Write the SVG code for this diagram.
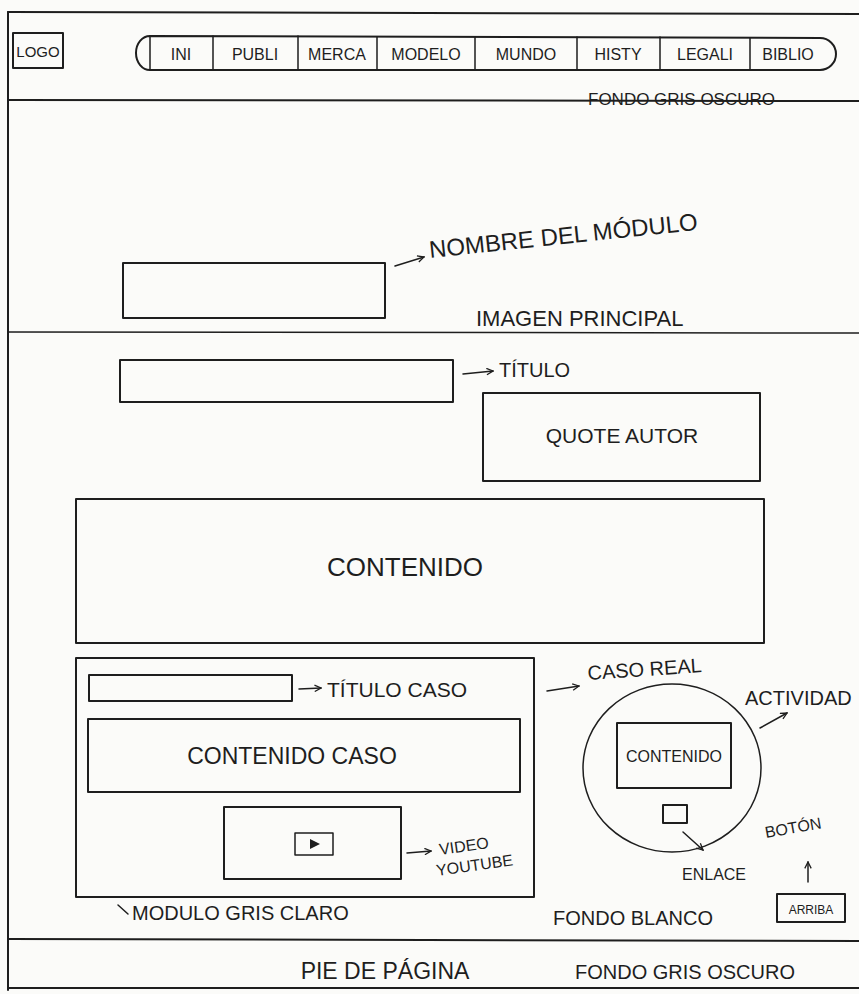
<svg xmlns="http://www.w3.org/2000/svg" width="859" height="994" viewBox="0 0 859 994">
<style>
.ln{fill:none;stroke:#1e1e1e;stroke-width:2;stroke-linecap:round;stroke-linejoin:round}
.th{fill:none;stroke:#1e1e1e;stroke-width:1.5;stroke-linecap:round;stroke-linejoin:round}
.t{font-family:"Liberation Sans",Arial,sans-serif;fill:#1e1e1e;font-size:20px}
.s{font-size:16px}
.m{text-anchor:middle}
</style>
<defs>
<marker id="ah" viewBox="0 0 10 10" refX="9" refY="5" markerWidth="8" markerHeight="8" orient="auto" markerUnits="userSpaceOnUse">
<path d="M1,1 L9,5 L1,9" fill="none" stroke="#1e1e1e" stroke-width="1.6"/>
</marker>
</defs>
<rect width="859" height="994" fill="#fbfbf9"/>
<g id="page-frame">
<path class="ln" d="M8,12 L859,14"/>
<path class="ln" d="M8,12 L8,990"/>
<path class="ln" d="M8,100 L859,101"/>
<path class="th" d="M8,332 L859,333"/>
<path class="ln" d="M8,939 L859,941"/>
<path class="ln" d="M8,988 L859,988"/>
</g>
<g id="logo">
<rect class="ln" x="13" y="33" width="50" height="35"/>
<text class="t m" x="38" y="57" style="font-size:15px">LOGO</text>
</g>
<g id="nav">
<path class="ln" d="M150,36 L820,38 A16,16 0 0 1 820,70 L150,70 A14,17 0 0 1 150,36 Z"/>
<path class="th" d="M150,36 L150,70 M213,36 L213,70 M298,36 L298,70 M377,37 L377,70 M475,37 L475,70 M577,37 L577,70 M660,37 L660,70 M750,38 L750,70"/>
<text class="t s m" x="181" y="60">INI</text>
<text class="t s m" x="255" y="60">PUBLI</text>
<text class="t s m" x="337" y="60">MERCA</text>
<text class="t s m" x="426" y="60">MODELO</text>
<text class="t s m" x="526" y="60">MUNDO</text>
<text class="t s m" x="618" y="60">HISTY</text>
<text class="t s m" x="705" y="60">LEGALI</text>
<text class="t s m" x="788" y="60">BIBLIO</text>
</g>
<g id="header-note">
<text class="t" x="588" y="105" style="font-size:17px">FONDO GRIS OSCURO</text>
</g>
<g id="imagen-principal">
<rect class="ln" x="123" y="263" width="262" height="55"/>
<text class="t" x="430" y="258" transform="rotate(-6 430 258)" style="font-size:24px">NOMBRE DEL MÓDULO</text>
<text class="t" x="476" y="326" style="font-size:22px">IMAGEN PRINCIPAL</text>
</g>
<g id="titulo">
<rect class="ln" x="120" y="360" width="333" height="42"/>
<text class="t" x="499" y="377">TÍTULO</text>
</g>
<g id="quote-autor">
<rect class="ln" x="483" y="393" width="277" height="88"/>
<text class="t m" x="622" y="443" style="font-size:21px">QUOTE AUTOR</text>
</g>
<g id="contenido">
<rect class="ln" x="76" y="499" width="688" height="144"/>
<text class="t m" x="405" y="576" style="font-size:26px">CONTENIDO</text>
</g>
<g id="modulo-caso">
<rect class="ln" x="76" y="658" width="458" height="239"/>
<text class="t" x="132" y="920">MODULO GRIS CLARO</text>
</g>
<g id="titulo-caso">
<rect class="ln" x="89" y="675" width="203" height="26"/>
<text class="t" x="327" y="697" style="font-size:21px">TÍTULO CASO</text>
</g>
<g id="contenido-caso">
<rect class="ln" x="88" y="719" width="432" height="73"/>
<text class="t m" x="292" y="764" style="font-size:23px">CONTENIDO CASO</text>
</g>
<g id="video">
<rect class="ln" x="224" y="807" width="177" height="72"/>
<rect class="th" x="295" y="833" width="38" height="22"/>
<path d="M310,839 L320,844 L310,849 Z" fill="#1e1e1e"/>
<text class="t s" x="440" y="855" transform="rotate(-8 440 855)">VIDEO</text>
<text class="t s" x="437" y="876" transform="rotate(-8 437 876)">YOUTUBE</text>
</g>
<g id="caso-real">
<text class="t" x="588" y="680" transform="rotate(-4 588 680)">CASO REAL</text>
</g>
<g id="actividad">
<ellipse class="th" cx="672" cy="768" rx="89" ry="84"/>
<text class="t" x="745" y="705">ACTIVIDAD</text>
</g>
<g id="contenido-actividad">
<rect class="ln" x="617" y="723" width="114" height="65"/>
<text class="t s m" x="674" y="762">CONTENIDO</text>
</g>
<g id="enlace">
<rect class="ln" x="663" y="805" width="24" height="18"/>
<text class="t s" x="682" y="880">ENLACE</text>
</g>
<g id="boton-arriba">
<text class="t s" x="766" y="838" transform="rotate(-10 766 838)">BOTÓN</text>
<rect class="ln" x="777" y="894" width="68" height="28"/>
<text class="t m" x="811" y="914" style="font-size:12px">ARRIBA</text>
</g>
<g id="fondo-blanco">
<text class="t" x="553" y="925">FONDO BLANCO</text>
</g>
<g id="footer">
<text class="t m" x="385" y="979" style="font-size:23px">PIE DE PÁGINA</text>
<text class="t" x="575" y="979">FONDO GRIS OSCURO</text>
</g>
<g id="connectors">
<path class="th" d="M395,266 L424,257" marker-end="url(#ah)"/>
<path class="th" d="M463,374 L493,371" marker-end="url(#ah)"/>
<path class="th" d="M299,689 L321,688" marker-end="url(#ah)"/>
<path class="th" d="M407,853 L431,851" marker-end="url(#ah)"/>
<path class="th" d="M118,905 L128,914"/>
<path class="th" d="M547,691 L579,686" marker-end="url(#ah)"/>
<path class="th" d="M760,728 L787,713" marker-end="url(#ah)"/>
<path class="th" d="M683,832 L703,850" marker-end="url(#ah)"/>
<path class="th" d="M808,882 L808,862" marker-end="url(#ah)"/>
</g>
</svg>
